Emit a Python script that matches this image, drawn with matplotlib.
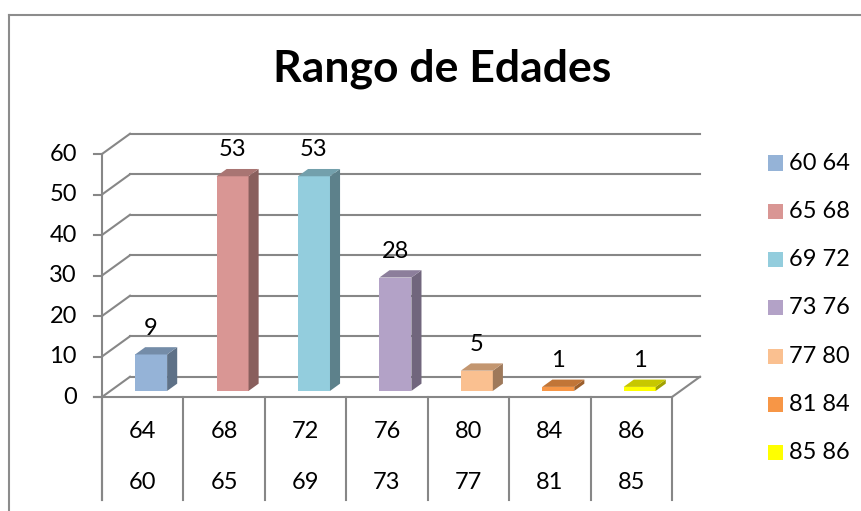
import numpy as np
import matplotlib.pyplot as plt
from matplotlib.patches import Polygon, Rectangle
from matplotlib.colors import to_rgb

# data
rangos = ['60 64', '65 68', '69 72', '73 76', '77 80', '81 84', '85 86']
fila_sup = ['64', '68', '72', '76', '80', '84', '86']
fila_inf = ['60', '65', '69', '73', '77', '81', '85']
cantidad = [9, 53, 53, 28, 5, 1, 1]
colores = ['#95B3D7', '#D99694', '#93CDDD', '#B3A2C7', '#FAC090', '#F79646', '#FFFF00']
yticks = [0, 10, 20, 30, 40, 50, 60]

plt.rcParams['font.family'] = ['Lato', 'DejaVu Sans']

W, H = 861, 511
fig = plt.figure(figsize=(W / 100, H / 100), dpi=100)

# front plane of the 3d box: x 102..672 px, y 397..154 px
ax = fig.add_axes([102 / W, (H - 397) / H, 570 / W, 243 / H])
ax.set_xlim(0, 7)
ax.set_ylim(0, 60)
ax.axis('off')

n = len(cantidad)
DX, DY = 0.344, 5.0      # full depth offset (cat units, value units)
D0, D1 = 0.30, 0.66      # bar depth slot
bw = 0.393               # bar width
grid_c = '#878787'
lw = 1.5
fs = 17


def shade(c, f):
    r, g, b = to_rgb(c)
    return (r * f, g * f, b * f)


# back wall gridlines and side wall diagonals
for t in yticks:
    ax.plot([DX, n + DX], [t + DY, t + DY], color=grid_c, lw=lw, clip_on=False, zorder=1)
    ax.plot([0, DX], [t, t + DY], color=grid_c, lw=lw, clip_on=False, zorder=1)
    ax.plot([-0.1, 0], [t, t], color=grid_c, lw=lw, clip_on=False, zorder=1)
    ax.text(-0.31, t, str(t), ha='right', va='center', fontsize=fs, color='black')

# floor
ax.plot([n, n + DX], [0, DY], color=grid_c, lw=lw, clip_on=False, zorder=1)
ax.plot([0, 0], [-25.4, 60], color=grid_c, lw=lw, clip_on=False, zorder=1)
ax.plot([-0.1, n], [0, 0], color=grid_c, lw=lw, clip_on=False, zorder=6)

# category table
for i in range(n + 1):
    ax.plot([i, i], [-25.4, 0], color=grid_c, lw=lw, clip_on=False, zorder=1)
for i in range(n):
    ax.text(i + 0.5, -8.64, fila_sup[i], ha='center', va='center', fontsize=fs)
    ax.text(i + 0.5, -21.2, fila_inf[i], ha='center', va='center', fontsize=fs)

# 3d bars
for i, (v, c) in enumerate(zip(cantidad, colores)):
    x0 = i + 0.5 - bw / 2 + D0 * DX
    x1 = x0 + bw
    y0 = D0 * DY
    y1 = v + D0 * DY
    ddx = (D1 - D0) * DX
    ddy = (D1 - D0) * DY
    front = Polygon([(x0, y0), (x1, y0), (x1, y1), (x0, y1)], closed=True,
                    facecolor=c, edgecolor='none', zorder=3, clip_on=False)
    side = Polygon([(x1, y0), (x1 + ddx, y0 + ddy), (x1 + ddx, y1 + ddy), (x1, y1)],
                   closed=True, facecolor=shade(c, 0.63), edgecolor='none', zorder=3, clip_on=False)
    top = Polygon([(x0, y1), (x1, y1), (x1 + ddx, y1 + ddy), (x0 + ddx, y1 + ddy)],
                  closed=True, facecolor=shade(c, 0.78), edgecolor='none', zorder=3, clip_on=False)
    ax.add_patch(front)
    ax.add_patch(side)
    ax.add_patch(top)
    ax.text(i + 0.5 + D0 * DX, v + D1 * DY + 4.7, str(v), ha='center', va='center',
            fontsize=fs, zorder=5)

# title
fig.text(442 / W, 1 - 69 / H, 'Rango de Edades', ha='center', va='center',
         fontsize=32, fontweight='bold')

# legend
for k, (lab, c) in enumerate(zip(rangos, colores)):
    cy = 163 + k * 48.3
    fig.patches.append(Rectangle((768 / W, 1 - (cy + 7.5) / H), 15 / W, 15 / H,
                                 transform=fig.transFigure, facecolor=c, edgecolor='none'))
    fig.text(789 / W, 1 - cy / H, lab, ha='left', va='center', fontsize=fs)

# chart border
fig.add_artist(plt.Line2D([9 / W, 1], [1 - 15 / H, 1 - 15 / H], color='#8c8c8c', lw=1.5,
                          transform=fig.transFigure))
fig.add_artist(plt.Line2D([9 / W, 9 / W], [0, 1 - 15 / H], color='#8c8c8c', lw=1.5,
                          transform=fig.transFigure))

fig.savefig('out.png', dpi=100)
